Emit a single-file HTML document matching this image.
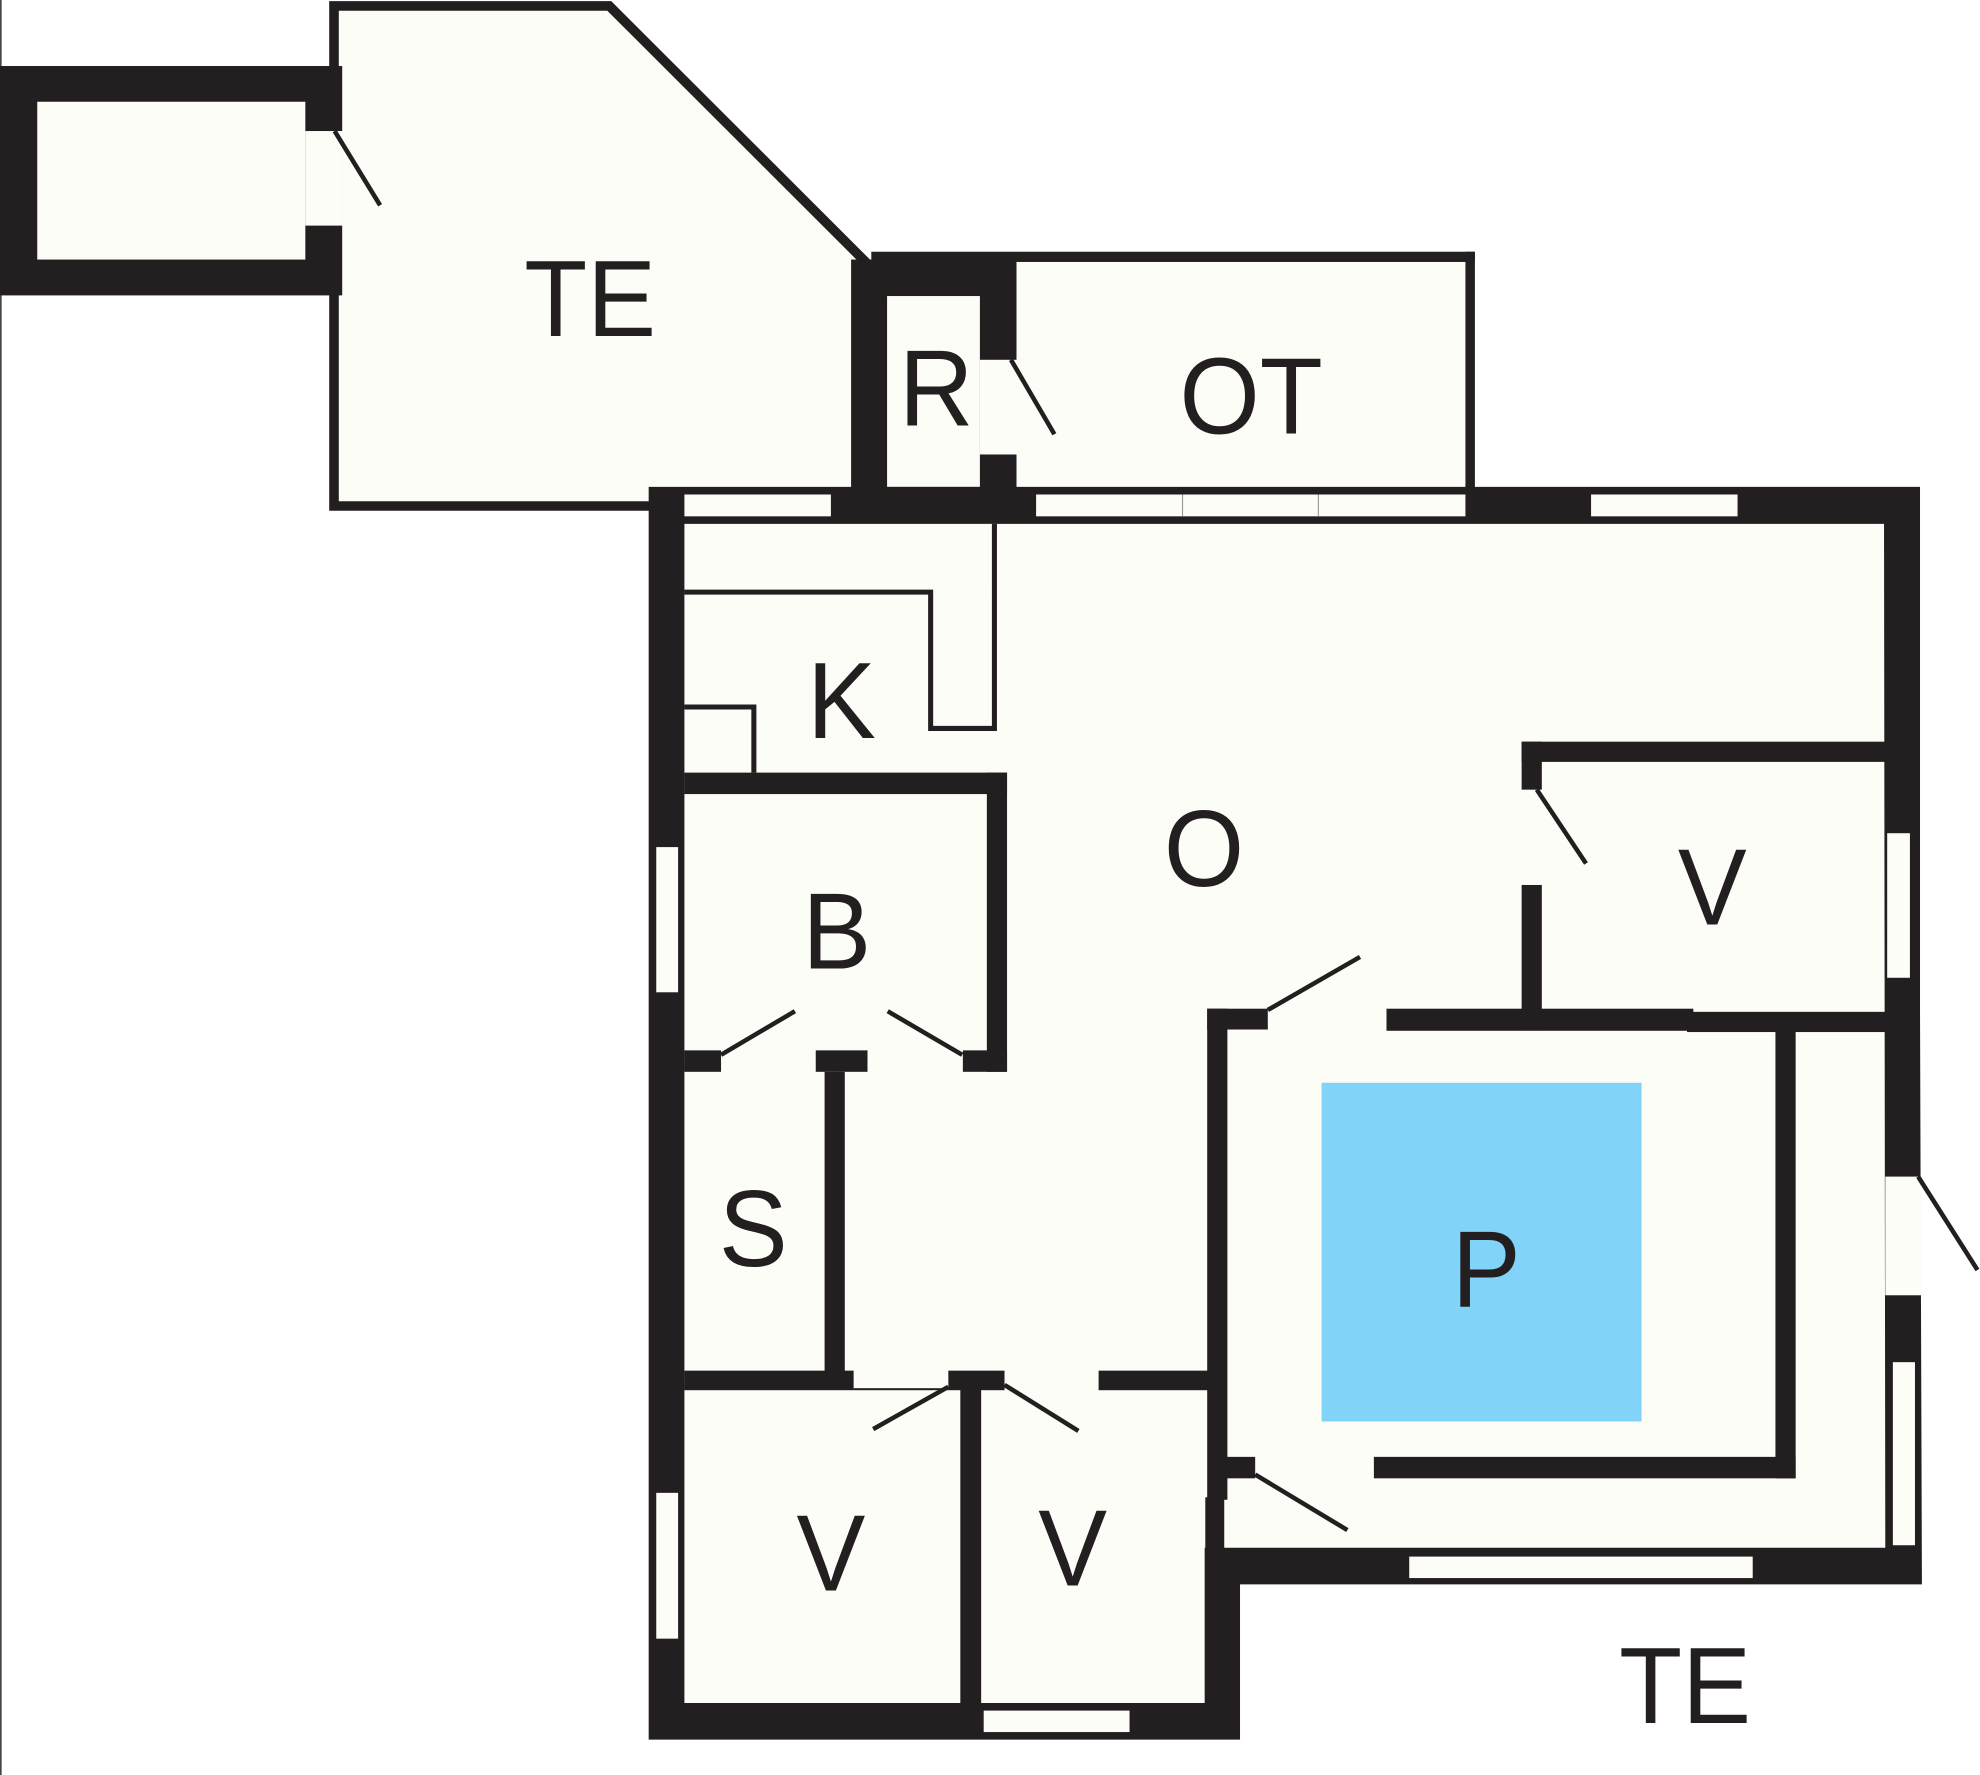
<!DOCTYPE html>
<html>
<head>
<meta charset="utf-8">
<style>
  html, body { margin: 0; padding: 0; background: #ffffff; }
  svg { display: block; }
  .lbl { font-family: "Liberation Sans", Arial, sans-serif; font-size: 86px; fill: #231f20; }
</style>
</head>
<body>
<svg xmlns="http://www.w3.org/2000/svg" width="1980" height="1775" viewBox="0 0 1568 1406" preserveAspectRatio="none">
  <rect x="0" y="0" width="1568" height="1406" fill="#ffffff"/>
  <!-- thin left edge line -->
  <rect x="0" y="0" width="1.3" height="1406" fill="#444"/>

  <!-- TE terrace polygon (top) -->
  <path d="M264.5,4.7 L482.5,4.7 L688,210 L688,400.8 L264.5,400.8 Z" fill="#fdfdf8" stroke="#231f20" stroke-width="7.6" stroke-linejoin="miter"/>

  <!-- Left small box -->
  <rect x="0" y="52.3" width="271" height="181.7" fill="#231f20"/>
  <rect x="29.5" y="80.6" width="212.3" height="125" fill="#fdfdf8"/>
  <rect x="241.8" y="103.8" width="29.4" height="74.9" fill="#fdfdf8"/>

  <!-- R building -->
  <rect x="674" y="205.6" width="131" height="210" fill="#231f20"/>
  <rect x="690" y="199.4" width="115" height="20" fill="#231f20"/>
  <rect x="702.5" y="234.5" width="73.5" height="151.2" fill="#fdfdf8"/>
  <rect x="776" y="285" width="29" height="75" fill="#fdfdf8"/>

  <!-- OT -->
  <rect x="805" y="199.4" width="363" height="190" fill="#fdfdf8"/>
  <rect x="805" y="199.4" width="363" height="8.1" fill="#231f20"/>
  <rect x="1160.5" y="199.4" width="7.5" height="190" fill="#231f20"/>

  <!-- Main building outer -->
  <path d="M513.7,385.7 L1520.5,385.7 L1520.5,800 L1522,1255 L982,1255 L982,1378 L513.7,1378 Z" fill="#231f20"/>
  <!-- Main interior -->
  <path d="M542,415 L1492,415 L1493,1226 L954,1226 L954,1349 L542,1349 Z" fill="#fdfdf8"/>

  <!-- Windows -->
  <g fill="#fdfdf8">
    <rect x="542" y="391.7" width="116" height="17.3"/>
    <rect x="820.5" y="391.7" width="340" height="17.3"/>
    <rect x="1260" y="391.7" width="116" height="17.3"/>
    <rect x="519.7" y="671" width="17.3" height="115"/>
    <rect x="519.7" y="1182.5" width="17.3" height="115.5"/>
    <rect x="779" y="1355" width="115.5" height="17"/>
    <rect x="1494.5" y="660" width="18" height="114.5"/>
    <rect x="1499" y="1079" width="17.5" height="145"/>
    <rect x="1116" y="1233" width="272" height="17"/>
    <rect x="1493" y="932" width="28.5" height="94"/>
  </g>
  <rect x="936" y="391.7" width="0.9" height="17.3" fill="#999"/>
  <rect x="1043.6" y="391.7" width="0.9" height="17.3" fill="#999"/>

  <!-- Kitchen thin lines -->
  <polyline points="542,469 737,469 737,577 787.5,577 787.5,415" fill="none" stroke="#231f20" stroke-width="4"/>
  <polyline points="542,560 597,560 597,612" fill="none" stroke="#231f20" stroke-width="4"/>

  <!-- Interior walls -->
  <g fill="#231f20">
    <!-- B room -->
    <rect x="542" y="612" width="255.5" height="17"/>
    <rect x="781.5" y="612" width="16" height="237"/>
    <rect x="542" y="832" width="29" height="17"/>
    <rect x="646" y="832" width="41" height="17"/>
    <rect x="762.5" y="832" width="35" height="17"/>
    <!-- S stem -->
    <rect x="653" y="849" width="16" height="245"/>
    <!-- S/V horizontal wall -->
    <rect x="542" y="1085.7" width="134" height="15.5"/>
    <rect x="751" y="1085.7" width="44.5" height="15.5"/>
    <rect x="870" y="1085.7" width="87" height="15.5"/>
    <rect x="676" y="1099.6" width="75" height="1.6"/>
    <!-- V divider -->
    <rect x="760.5" y="1101" width="16.5" height="248.5"/>
    <!-- P room left wall -->
    <rect x="956" y="799" width="16" height="389"/>
    <rect x="954.5" y="1186" width="15" height="44"/>
    <!-- P top wall -->
    <rect x="956" y="799" width="48" height="16.5"/>
    <rect x="1098" y="799" width="243" height="17.5"/>
    <rect x="1336" y="801.5" width="157" height="16"/>
    <!-- right V room -->
    <rect x="1205" y="587.5" width="288" height="16"/>
    <rect x="1205" y="587.5" width="16" height="38"/>
    <rect x="1205" y="701" width="16" height="115"/>
    <!-- P right wall and bottom -->
    <rect x="1406" y="815" width="16" height="356"/>
    <rect x="970" y="1154" width="24" height="17"/>
    <rect x="1088" y="1154" width="334" height="17"/>
  </g>

  <!-- Pool -->
  <rect x="1046.6" y="857.7" width="253.4" height="268.3" fill="#81d4f7"/>

  <!-- Door swing lines -->
  <g stroke="#231f20" stroke-width="3.6" stroke-linecap="butt" fill="none">
    <line x1="265" y1="103.8" x2="301" y2="162.6"/>
    <line x1="800.6" y1="285" x2="835" y2="344"/>
    <line x1="571" y1="835.5" x2="629.5" y2="801"/>
    <line x1="703" y1="801" x2="762" y2="835.5"/>
    <line x1="691.5" y1="1132" x2="751" y2="1098.5"/>
    <line x1="795.5" y1="1097" x2="854" y2="1133.5"/>
    <line x1="1004" y1="800" x2="1077" y2="758"/>
    <line x1="1217" y1="625.5" x2="1256" y2="684"/>
    <line x1="1519" y1="932" x2="1566" y2="1006"/>
    <line x1="994" y1="1168" x2="1067" y2="1212"/>
  </g>

  <!-- Labels -->
  <g transform="scale(0.95 1)">
    <text class="lbl" x="492" y="266" text-anchor="middle">TE</text>
    <text class="lbl" x="780.5" y="337" text-anchor="middle">R</text>
    <text class="lbl" x="1043" y="343.5" text-anchor="middle">OT</text>
    <text class="lbl" x="701.5" y="584.5" text-anchor="middle">K</text>
    <text class="lbl" x="1003.7" y="702" text-anchor="middle">O</text>
    <text class="lbl" x="697.5" y="767" text-anchor="middle">B</text>
    <text class="lbl" x="1427.4" y="732.5" text-anchor="middle">V</text>
    <text class="lbl" x="627.9" y="1003" text-anchor="middle">S</text>
    <text class="lbl" x="1239" y="1035" text-anchor="middle">P</text>
    <text class="lbl" x="692.6" y="1260" text-anchor="middle">V</text>
    <text class="lbl" x="894.2" y="1256" text-anchor="middle">V</text>
    <text class="lbl" x="1404.7" y="1365" text-anchor="middle">TE</text>
  </g>
</svg>
</body>
</html>
